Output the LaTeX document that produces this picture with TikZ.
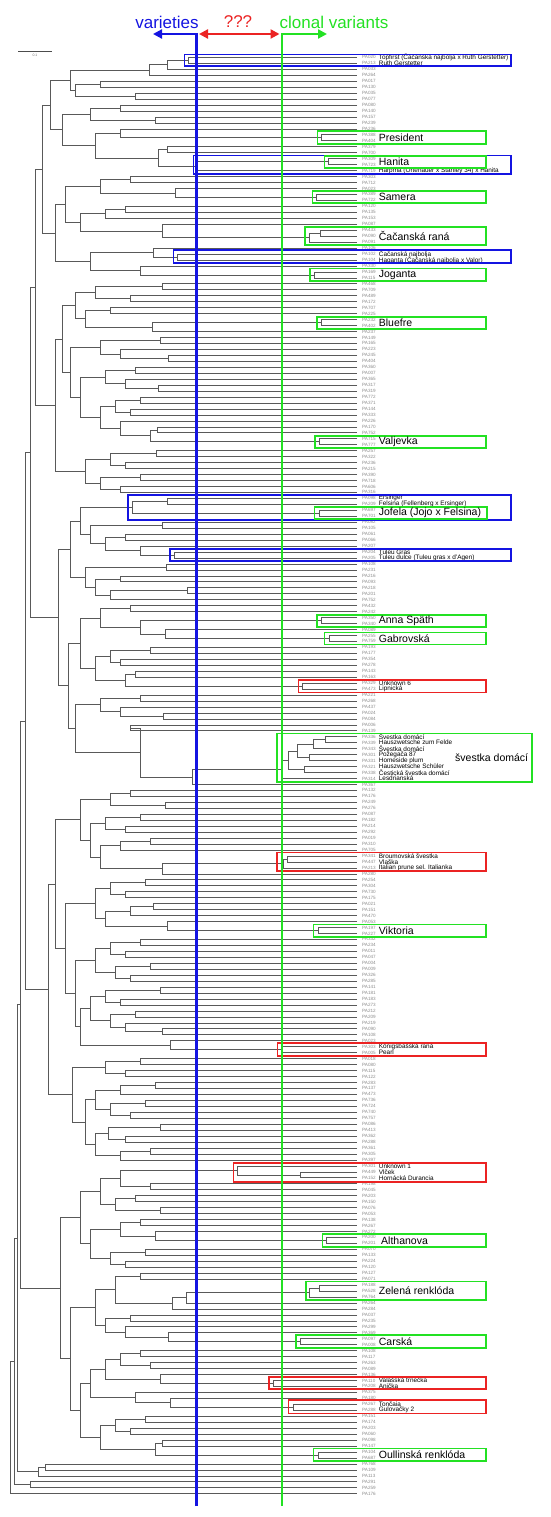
\documentclass[tikz,border=0pt]{standalone}
\usepackage{fontspec}
\setmainfont{Liberation Sans}
\usepackage[]{tikz}
\usetikzlibrary{positioning}
\usetikzlibrary{calc}
\usetikzlibrary{arrows.meta}
\definecolor{vblue}{RGB}{20,20,225}
\definecolor{vgreen}{RGB}{35,225,35}
\definecolor{vred}{RGB}{235,35,35}
\tikzset{
  tree/.style={draw=black!65,line width=0.6pt},
  leaflab/.style={anchor=west,inner sep=0pt,text=black!45,font=\fontsize{4.6}{5}\selectfont},
  namelab/.style={anchor=west,inner sep=0pt,font=\fontsize{6.4}{7}\selectfont},
  boxtitle/.style={anchor=west,inner sep=0pt,font=\fontsize{10.5}{12}\selectfont},
  headlab/.style={inner sep=0pt,font=\fontsize{17}{20}\selectfont},
  bbox/.style={draw=vblue,line width=1.6pt},
  gbox/.style={draw=vgreen,line width=1.6pt},
  rbox/.style={draw=vred,line width=1.6pt},
  vline/.style={line width=2.2pt},
}
\begin{document}
\begin{tikzpicture}[x=1pt,y=-1pt]
\useasboundingbox (0,0) rectangle (550,1517);
\foreach \lab [count=\i from 0] in {
  PA020,PA213,PA033,PA264,PA017,PA130,PA035,PA077,PA080,PA140,PA157,PA239,PA236,PA388,PA404,PA379,PA700,PA309,PA723,PA719,
  PA303,PA712,PA023,PA389,PA722,PA120,PA135,PA153,PA087,PA433,PA090,PA091,PA106,PA102,PA104,PA330,PA169,PA115,
  PA468,PA709,PA489,PA172,PA707,PA225,PA232,PA402,PA237,PA149,PA165,PA223,PA245,PA404,PA360,PA007,PA365,PA317,PA319,PA772,
  PA371,PA144,PA333,PA226,PA170,PA752,PA715,PA777,PA257,PA322,PA236,PA215,PA390,PA718,PA606,PA316,
  PA098,PA209,PA697,PA701,PA082,PA105,PA061,PA066,PA207,PA204,PA205,PA108,PA231,PA216,PA093,PA218,PA201,PA752,PA432,PA242,
  PA350,PA340,PA089,PA255,PA759,PA193,PA177,PA354,PA278,PA143,PA163,PA329,PA473,PA221,PA268,PA437,PA024,PA084,PA006,PA139,
  PA336,PA339,PA343,PA301,PA331,PA321,PA338,PA314,
  PA367,PA132,PA176,PA249,PA276,PA087,PA182,PA214,PA292,PA019,PA310,PA705,PA341,PA447,PA213,PA280,PA254,PA304,PA730,PA175,
  PA021,PA151,PA470,PA053,PA197,PA227,PA332,PA234,PA011,PA047,PA004,PA009,PA326,PA285,PA141,PA181,PA183,PA273,PA212,PA209,
  PA219,PA090,PA108,PA023,PA303,PA005,PA018,PA080,PA115,PA122,PA283,PA137,PA473,PA736,PA724,PA740,PA757,PA086,PA413,PA362,
  PA288,PA361,PA305,PA397,
  PA301,PA449,PA152,PA198,PA045,PA203,PA150,PA076,PA053,PA138,PA267,PA272,PA200,PA201,PA070,PA133,PA224,PA120,PA127,PA071,
  PA188,PA528,PA764,PA264,PA284,PA037,PA235,PA299,PA369,PA097,PA008,PA108,PA117,PA263,PA089,PA136,PA110,PA208,PA375,PA180,
  PA267,PA288,PA151,PA174,PA203,PA060,PA098,PA147,PA104,PA687,PA768,PA109,PA113,PA291,PA259,PA176}{
  \coordinate (n-\i-\i) at (357,{57.3+5.96*\i});
  \node[leaflab] (lf\i) at (362,{57.3+5.96*\i}) {\lab};
}
\foreach \x/\a/\m/\b in {
  188/0/0/1,167/0/1/2,149/0/2/3,100/4/4/5,135/6/6/7,75/4/5/7,70/0/3/7,
  120/8/8/9,155/10/10/11,90/8/9/11,321/13/13/14,120/12/12/14,167/15/15/16,328/17/17/18,197/17/18/19,
  158/15/16/19,95/12/14/19,62/8/11/19,50/0/7/19,
  130/20/20/21,316/23/23/24,175/22/22/24,100/20/21/24,125/25/25/26,105/25/26/27,320/29/29/30,309/29/30/31,
  162/28/28/31,80/25/27/31,65/20/24/31,177/33/33/34,153/32/32/34,314/36/36/37,140/35/35/37,90/32/34/37,
  55/20/31/37,42/0/19/37,
  162/38/38/39,130/40/40/41,95/38/39/41,110/42/42/43,321/44/44/45,152/44/45/46,85/42/43/46,75/38/41/46,
  160/47/47/48,168/50/50/51,120/49/49/51,100/47/48/51,
  135/52/52/53,158/55/55/56,125/54/54/56,105/52/53/56,
  140/57/57/58,130/59/59/60,115/57/58/60,157/62/62/63,319/64/64/65,150/62/63/65,120/61/61/65,100/57/60/65,
  80/52/56/65,70/47/51/65,62/38/46/65,
  156/66/66/67,125/68/68/69,110/66/67/69,140/70/70/71,120/72/72/73,100/70/71/73,85/66/69/73,55/38/65/73,35/0/37/73,
  167/74/74/75,319/76/76/77,132/74/75/77,162/78/78/79,125/80/80/81,174/83/83/84,140/82/82/84,105/80/81/84,
  90/78/79/84,80/74/77/84,
  166/85/85/86,120/87/87/88,187/89/89/90,110/89/90/91,95/87/88/91,85/85/86/91,70/74/84/91,
  130/92/92/93,321/94/94/95,329/97/97/98,165/96/96/98,140/94/95/98,100/92/93/98,
  150/99/99/100,120/101/101/102,110/99/100/102,135/103/103/104,302/105/105/106,125/103/104/106,95/99/102/106,
  80/92/98/106,
  140/107/107/108,163/110/110/111,120/109/109/111,100/107/108/111,
  130/112/112/113,325/114/114/115,313/114/115/116,309/117/117/118,297/114/116/118,304/119/119/120,
  288/114/118/120,281/114/120/121,192/114/121/122,140/112/113/122,75/107/111/122,68/92/106/122,58/74/91/122,
  30/0/73/122,
  130/123/123/124,165/125/125/126,110/123/124/126,140/127/127/128,125/129/129/130,105/127/128/130,
  150/131/131/132,120/131/132/133,287/134/134/135,283/134/135/136,162/134/136/137,100/131/133/137,
  90/127/130/137,80/123/126/137,
  145/138/138/139,125/140/140/141,110/138/139/141,153/142/142/143,130/142/143/144,318/146/146/147,
  167/145/145/147,105/142/144/147,95/138/141/147,
  140/148/148/149,125/150/150/151,110/148/149/151,150/152/152/153,130/154/154/155,115/152/153/155,95/148/151/155,
  160/156/156/157,120/158/158/159,105/156/157/159,135/160/160/161,162/163/163/164,125/162/162/164,
  110/160/161/164,90/156/159/164,281/166/166/167,170/165/165/167,80/156/164/167,75/148/155/167,
  65/138/147/167,55/123/137/167,
  140/168/168/169,125/170/170/171,105/168/169/171,155/172/172/173,120/172/173/174,145/175/175/176,
  130/177/177/178,110/175/176/178,95/172/174/178,160/179/179/180,125/181/181/182,108/179/180/182,
  150/183/183/184,120/183/184/185,95/179/182/185,85/172/178/185,72/168/171/185,48/123/167/185,25/0/122/185,
  300/187/187/188,237/186/186/188,150/189/189/190,120/186/188/190,135/191/191/192,160/193/193/194,
  115/191/192/194,100/186/190/194,
  140/195/195/196,326/198/198/199,155/197/197/199,120/195/196/199,145/200/200/201,125/202/202/203,
  110/200/201/203,90/195/199/203,80/186/194/203,
  140/204/204/205,319/206/206/207,309/206/207/208,186/206/208/209,172/206/209/210,115/204/205/210,
  130/211/211/212,300/215/215/216,168/214/214/216,125/213/213/216,105/211/212/216,95/204/210/216,
  140/217/217/218,150/219/219/220,120/217/218/220,273/222/222/223,160/221/221/223,105/217/220/223,
  293/226/226/227,170/225/225/227,135/224/224/227,90/217/223/227,
  145/228/228/229,130/230/230/231,115/228/229/231,162/232/232/233,318/234/234/235,155/232/233/235,
  100/228/231/235,80/217/227/235,70/204/216/235,60/186/203/235,20/0/185/235,
  45/236/236/237,38/236/237/238,17/0/235/238,30/239/239/240,14/0/238/240,10/0/240/241}{
  \pgfmathtruncatemacro{\mm}{\m+1}
  \coordinate (xr) at (\x,0);
  \draw[tree] (n-\a-\m) -- (n-\a-\m -| xr) -- (n-\mm-\b -| xr) -- (n-\mm-\b);
  \coordinate (n-\a-\b) at ($(n-\a-\m -| xr)!.5!(n-\mm-\b -| xr)$);
}
\foreach \k/\txt in {
  0/{Topfirst (Čačanska najbolja x Ruth Gerstetter)},1/{Ruth Gerstetter},
  19/{Harpma (Ortenauer x Stanley 34) x Hanita},
  33/{Čačanská najbolja},34/{Haganta (Čačanská najbolja x Valor)},
  74/{Ersinger},75/{Felsina (Fellenberg x Ersinger)},
  83/{Tuleu Gras},84/{Tuleu dulce (Tuleu gras x d'Agen)},
  105/{Unknown 6},106/{Lipnická},
  114/{Švestka domácí},115/{Hauszwetsche zum Felde},116/{Švestka domácí},117/{Požegača 87},
  118/{Homeside plum},119/{Hauszwetsche Schüler},120/{Čestická švestka domácí},121/{Lesdrianská},
  134/{Broumovská švestka},135/{Vlaška},136/{Italian prune sel. Italianka},
  166/{Königsbašská raná},167/{Pearl},
  186/{Unknown 1},187/{Vlček},188/{Hornácká Durancia},
  222/{Valašská trnečka},223/{Anička},226/{Tončaia},227/{Gulovačky 2}}{
  \node[namelab,right=16.7pt of lf\k.west] (nm\k) {\txt};
}
\draw[bbox] (184.3,54.7) rectangle (510.7,66.3);
\draw[bbox] (193.3,155.7) rectangle (510.7,174);
\draw[bbox] (173.3,250) rectangle (510.7,262.7);
\draw[bbox] (128,495) rectangle (510.7,520);
\draw[bbox] (170,549) rectangle (510.7,561);
\draw[gbox] (317.3,131.3) rectangle (486,144);
\draw[gbox] (324.3,156.3) rectangle (486,168);
\draw[gbox] (312.3,191.3) rectangle (486,203.3);
\draw[gbox] (305,226.7) rectangle (486,245);
\draw[gbox] (310,268.3) rectangle (486,280.7);
\draw[gbox] (316.7,316.7) rectangle (486,329);
\draw[gbox] (315,435.7) rectangle (486,448);
\draw[gbox] (314.3,506.7) rectangle (486.7,519);
\draw[gbox] (316.7,614.7) rectangle (486,626.7);
\draw[gbox] (324.3,632.3) rectangle (486,644.3);
\draw[gbox] (276.7,733.3) rectangle (531.7,781.7);
\draw[gbox] (313.3,924.3) rectangle (486,936.7);
\draw[gbox] (322.3,1234) rectangle (486,1246.7);
\draw[gbox] (305.7,1281.3) rectangle (486,1300);
\draw[gbox] (296,1335) rectangle (486,1347.7);
\draw[gbox] (313.3,1448.3) rectangle (486,1461);
\draw[rbox] (298.3,680) rectangle (486,692.3);
\draw[rbox] (276.7,852.3) rectangle (486,871);
\draw[rbox] (277.3,1042.7) rectangle (486,1055.7);
\draw[rbox] (233.3,1162.7) rectangle (486,1181.7);
\draw[rbox] (269,1376.7) rectangle (486,1389);
\draw[rbox] (288.3,1400) rectangle (486,1413.3);
\node[boxtitle] (tpres) at (378.7,137.6) {President};
\node[boxtitle] (than) at (378.7,162.2) {Hanita};
\node[boxtitle] (tsam) at (378.7,197.3) {Samera};
\node[boxtitle] (tcac) at (378.7,235.8) {Čačanská raná};
\node[boxtitle] (tjog) at (378.7,274.5) {Joganta};
\node[boxtitle] (tblu) at (378.7,322.8) {Bluefre};
\node[boxtitle] (tval) at (378.7,441.8) {Valjevka};
\node[boxtitle] (tjof) at (378.7,512.9) {Jofela (Jojo x Felsina)};
\node[boxtitle] (tann) at (378.7,620.7) {Anna Späth};
\node[boxtitle] (tgab) at (378.7,638.3) {Gabrovská};
\node[boxtitle] (tsve) at (455,757.5) {švestka domácí};
\node[boxtitle] (tvik) at (378.7,930.5) {Viktoria};
\node[boxtitle] (talt) at (381,1240.3) {Althanova};
\node[boxtitle] (tzel) at (378.7,1290.6) {Zelená renklóda};
\node[boxtitle] (tcar) at (378.7,1341.3) {Carská};
\node[boxtitle] (toul) at (378.7,1454.7) {Oullinská renklóda};
\coordinate (sba) at (18,51.5);
\coordinate (sbb) at (52,51.5);
\draw[black!70,line width=0.6pt] (sba) -- (sbb);
\node[inner sep=0pt,text=black!55,font=\fontsize{3.5}{4}\selectfont,below=2pt of $(sba)!.5!(sbb)$] (sclab) {0.1};
\coordinate (btop) at (196.5,34);
\coordinate (bbot) at (196.5,1506);
\coordinate (bend) at (153,34);
\coordinate (gtop) at (282,34);
\coordinate (gbot) at (282,1506);
\coordinate (gend) at (327,34);
\coordinate (ra) at (199,34);
\coordinate (rb) at (279.5,34);
\draw[vline,vblue,-{Triangle[length=9pt,width=9pt]}] (bbot) -- (btop) -- (bend);
\draw[vline,vgreen,-{Triangle[length=9pt,width=9pt]}] (gbot) -- (gtop) -- (gend);
\draw[vline,vred,{Triangle[length=9pt,width=9pt]}-{Triangle[length=9pt,width=9pt]}] (ra) -- (rb);
\node[headlab,text=vblue] (tvar) at (167,22) {varieties};
\node[headlab,text=vred] (tq) at (238,22) {???};
\node[headlab,text=vgreen] (tclo) at (334,22) {clonal variants};
\end{tikzpicture}
\end{document}
